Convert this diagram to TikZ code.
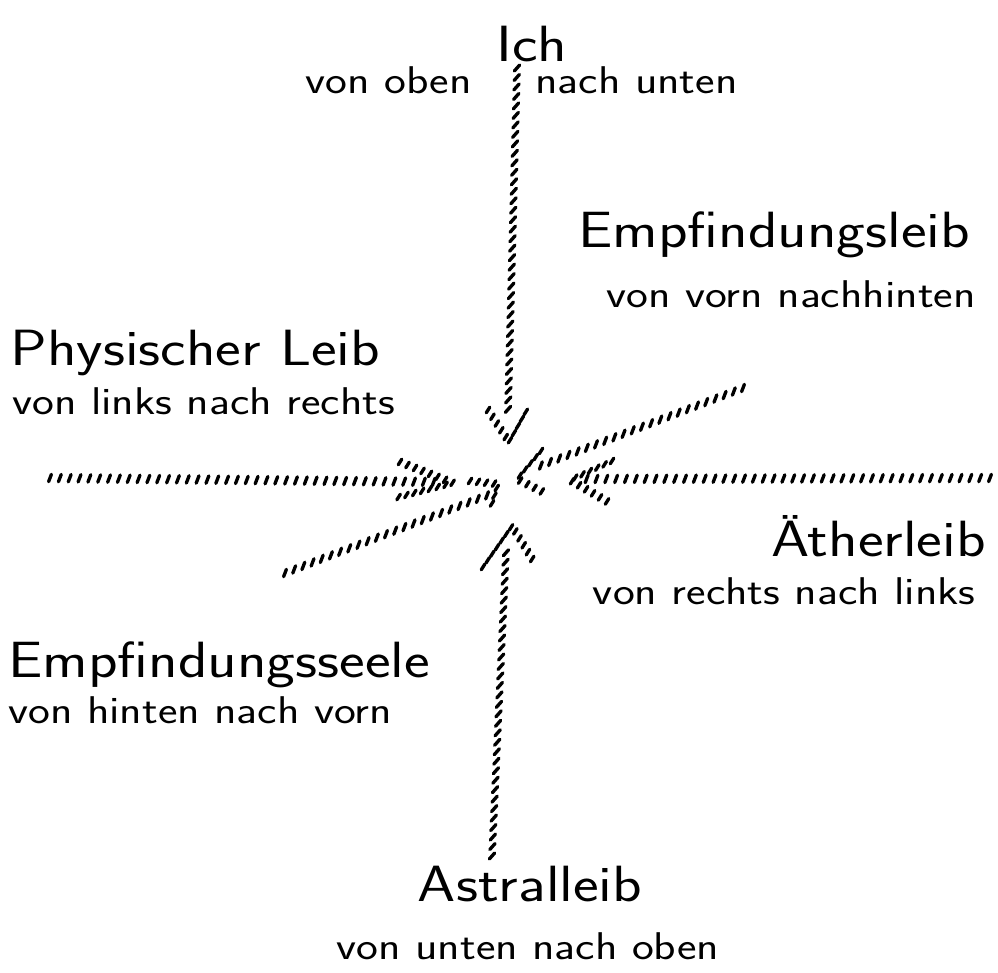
\documentclass[tikz,border=0pt]{standalone}
\usepackage{fontspec}
\newfontfamily\handfont{Latin Modern Sans}[FakeStretch=1.2]
\usepackage{tikz}
\usetikzlibrary{decorations.markings, positioning}
\tikzset{
  hatch/.style n args={3}{postaction={decorate},
    decoration={markings,
      mark=between positions 0 and 1 step #3pt with {
        \pgftransformresetnontranslations
        \draw[line width=1.9pt, line cap=round] (-#1pt,-#2pt) -- (#1pt,#2pt);}}},
  hatchH/.style={hatch={0.8}{2.1}{5.6}},
  hatchV/.style={hatch={1.5}{1.7}{5.4}},
  hatchS/.style={hatch={1.0}{1.6}{4.6}},
  bigname/.style={font=\handfont\fontsize{29}{32}\selectfont, inner sep=0pt},
  direction/.style={font=\handfont\fontsize{22}{24}\selectfont, inner sep=0pt},
}

\begin{document}
\begin{tikzpicture}[x=0.02cm, y=-0.02cm]
  \useasboundingbox (0,0) rectangle (998,973);

  % arrow ends: start of shaft, end of shaft, tip, two legs
  \coordinate (ichS) at (517,68);   \coordinate (ichE) at (508,410);
  \coordinate (ichT) at (509,442);  \coordinate (ichA) at (488,410);
  \coordinate (ichB) at (528,408);
  \coordinate (astS) at (492,856);  \coordinate (astE) at (506,552);
  \coordinate (astT) at (512,526);  \coordinate (astA) at (483,567);
  \coordinate (astB) at (534,562);
  \coordinate (phyS) at (50,478);   \coordinate (phyE) at (440,482);
  \coordinate (phyT) at (453,483);  \coordinate (phyA) at (400,462);
  \coordinate (phyB) at (391,499);
  \coordinate (aetS) at (990,478);  \coordinate (aetE) at (585,479);
  \coordinate (aetT) at (570,480);  \coordinate (aetA) at (612,461);
  \coordinate (aetB) at (608,502);
  \coordinate (elbS) at (743,388);  \coordinate (elbE) at (537,467);
  \coordinate (elbT) at (517,479);  \coordinate (elbA) at (541,451);
  \coordinate (elbB) at (545,493);
  \coordinate (eslS) at (285,573);  \coordinate (eslE) at (488,495);
  \coordinate (eslT) at (498,484);  \coordinate (eslA) at (470,481);
  \coordinate (eslB) at (490,510);

  % hatched arrows
  \foreach \a/\s in {ich/hatchV, ast/hatchV, phy/hatchH, aet/hatchH, elb/hatchH, esl/hatchH} {
    \path[\s] (\a S) -- (\a E);
    \path[hatchS] (\a A) -- (\a T) -- (\a B);
  }

  % Ich
  \node[bigname] (ich) at (532,44) {Ich};
  \node[direction, anchor=mid east] (vonoben) at (472,90) {von oben};
  \node[direction, anchor=mid west] (nachunten) at (535,90) {nach unten};
  % Empfindungsleib
  \node[bigname, anchor=mid west] (empleib) at (578,244) {Empfindungsleib};
  \node[direction, anchor=mid west] (vornhinten) at (606,304) {von vorn nachhinten};
  % Physischer Leib
  \node[bigname, anchor=mid west] (physisch) at (10,362) {Physischer Leib};
  \node[direction, anchor=mid west] (linksrechts) at (12,411) {von links nach rechts};
  % Aetherleib
  \node[bigname, anchor=mid east] (aether) at (986,553) {Ätherleib};
  \node[direction, anchor=mid east] (rechtslinks) at (976,601) {von rechts nach links};
  % Empfindungsseele
  \node[bigname, anchor=mid west] (empseele) at (8,674) {Empfindungsseele};
  \node[direction, anchor=mid west] (hintenvorn) at (8,720) {von hinten nach vorn};
  % Astralleib
  \node[bigname, anchor=mid] (astral) at (530,898) {Astralleib};
  \node[direction, anchor=mid] (untenoben) at (528,956) {von unten nach oben};
\end{tikzpicture}
\end{document}
